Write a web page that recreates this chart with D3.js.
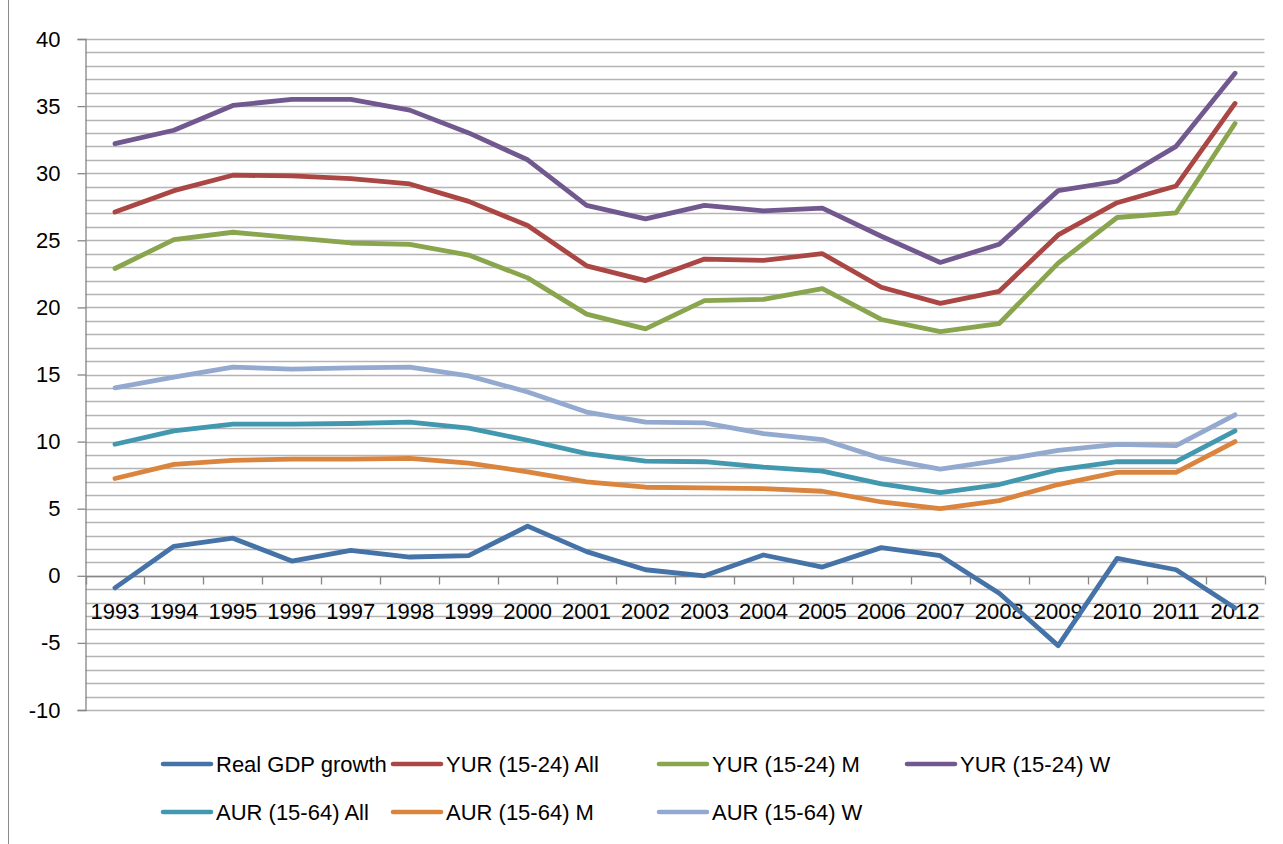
<!DOCTYPE html>
<html>
<head>
<meta charset="utf-8">
<script src="https://cdn.jsdelivr.net/npm/d3@7"></script>
<style>
  body { margin: 0; background: #fff; }
  svg text { font-family: "Liberation Sans", Arial, sans-serif; font-size: 22px; fill: #000; }
</style>
</head>
<body>
<svg id="chart" width="1283" height="844"></svg>
<script>
const years = ["1993","1994","1995","1996","1997","1998","1999","2000","2001","2002",
               "2003","2004","2005","2006","2007","2008","2009","2010","2011","2012"];

const gdpGrowth = [-0.9, 2.2, 2.8, 1.1, 1.9, 1.4, 1.5, 3.7, 1.8, 0.45, 0.0, 1.55, 0.65, 2.1, 1.5, -1.3, -5.2, 1.3, 0.45, -2.4];
const yurAll   = [27.1, 28.7, 29.85, 29.8, 29.6, 29.2, 27.9, 26.1, 23.1, 22.0, 23.6, 23.5, 24.0, 21.5, 20.3, 21.2, 25.4, 27.8, 29.05, 35.2];
const yurM     = [22.9, 25.05, 25.6, 25.2, 24.8, 24.7, 23.9, 22.2, 19.5, 18.4, 20.5, 20.6, 21.4, 19.1, 18.2, 18.8, 23.3, 26.7, 27.05, 33.7];
const yurW     = [32.2, 33.2, 35.05, 35.5, 35.5, 34.7, 33.0, 31.0, 27.6, 26.6, 27.6, 27.2, 27.4, 25.3, 23.35, 24.7, 28.7, 29.4, 32.0, 37.45];
const aurAll   = [9.8, 10.8, 11.3, 11.3, 11.35, 11.45, 11.0, 10.1, 9.1, 8.55, 8.5, 8.1, 7.8, 6.85, 6.2, 6.8, 7.9, 8.5, 8.5, 10.8];
const aurM     = [7.25, 8.3, 8.6, 8.7, 8.7, 8.75, 8.4, 7.75, 7.0, 6.6, 6.55, 6.5, 6.3, 5.5, 5.0, 5.6, 6.8, 7.7, 7.7, 10.0];
const aurW     = [14.0, 14.8, 15.55, 15.4, 15.5, 15.55, 14.9, 13.7, 12.2, 11.45, 11.4, 10.6, 10.15, 8.75, 7.95, 8.6, 9.35, 9.8, 9.7, 12.0];

const seriesNames  = ["Real GDP growth", "YUR (15-24) All", "YUR (15-24) M", "YUR (15-24) W",
                      "AUR (15-64) All", "AUR (15-64) M", "AUR (15-64) W"];
const seriesValues = [gdpGrowth, yurAll, yurM, yurW, aurAll, aurM, aurW];
const seriesColors = ["#4572A7", "#AA4643", "#89A54E", "#71588F", "#4198AF", "#DB843D", "#93A9CF"];

const yTicks = [-10, -5, 0, 5, 10, 15, 20, 25, 30, 35, 40];

const svg = d3.select("#chart");
const plotLeft = 85.5, plotRight = 1264.5, plotTop = 39, plotBottom = 710;

const x = d3.scaleBand().domain(years).range([plotLeft, plotRight]);
const y = d3.scaleLinear().domain([-10, 40]).range([plotBottom, plotTop]);

// outer chart border (left edge visible)
svg.append("line")
  .attr("x1", 8.5).attr("x2", 8.5).attr("y1", 0).attr("y2", 844)
  .attr("stroke", "#8a8a8a").attr("stroke-width", 1);

// gridlines every unit
svg.append("g")
  .selectAll("line")
  .data(d3.range(-10, 41, 1))
  .join("line")
    .attr("x1", plotLeft).attr("x2", plotRight)
    .attr("y1", d => Math.round(y(d)) + 0.5)
    .attr("y2", d => Math.round(y(d)) + 0.5)
    .attr("stroke", "#b4b4b4")
    .attr("stroke-width", 1.3);

// y axis
const yAxis = svg.append("g")
  .attr("transform", `translate(${plotLeft},0)`)
  .call(d3.axisLeft(y).tickValues(yTicks).tickFormat(d => String(d)).tickSize(8).tickPadding(17));
yAxis.select(".domain").attr("stroke", "#868686").attr("stroke-width", 1.3);
yAxis.selectAll(".tick line").attr("stroke", "#868686").attr("stroke-width", 1.3);
yAxis.selectAll(".tick text")
  .attr("font-family", "Liberation Sans").attr("font-size", 22).attr("fill", "#000");

// x axis at zero
const zeroY = Math.round(y(0)) + 0.5;
svg.append("line")
  .attr("x1", plotLeft).attr("x2", plotRight).attr("y1", zeroY).attr("y2", zeroY)
  .attr("stroke", "#868686").attr("stroke-width", 1.3);

const bounds = years.map(d => x(d)).concat([plotRight]);
svg.append("g")
  .selectAll("line")
  .data(bounds)
  .join("line")
    .attr("x1", d => Math.round(d) + 0.5).attr("x2", d => Math.round(d) + 0.5)
    .attr("y1", zeroY).attr("y2", zeroY + 8)
    .attr("stroke", "#868686").attr("stroke-width", 1.3);

svg.append("g")
  .selectAll("text")
  .data(years)
  .join("text")
    .attr("x", d => x(d) + x.bandwidth() / 2)
    .attr("y", 619)
    .attr("text-anchor", "middle")
    .text(d => d);

// series lines
const line = d3.line()
  .x((d, i) => x(years[i]) + x.bandwidth() / 2)
  .y(d => y(d));

svg.append("g")
  .selectAll("path")
  .data(seriesValues)
  .join("path")
    .attr("d", d => line(d))
    .attr("fill", "none")
    .attr("stroke", (d, i) => seriesColors[i])
    .attr("stroke-width", 4.8)
    .attr("stroke-linejoin", "round")
    .attr("stroke-linecap", "round");

// legend
const legendCols = [161, 391, 657, 905];
const legendRows = [764, 812];
const legend = svg.append("g")
  .selectAll("g")
  .data(seriesNames)
  .join("g")
    .attr("transform", (d, i) => `translate(${legendCols[i % 4]},${legendRows[Math.floor(i / 4)]})`);

legend.append("line")
  .attr("x1", 2).attr("x2", 50).attr("y1", 0).attr("y2", 0)
  .attr("stroke", (d, i) => seriesColors[i])
  .attr("stroke-width", 4.5)
  .attr("stroke-linecap", "round");

legend.append("text")
  .attr("x", 55)
  .attr("y", 0)
  .attr("dy", "0.36em")
  .text(d => d);
</script>
</body>
</html>
